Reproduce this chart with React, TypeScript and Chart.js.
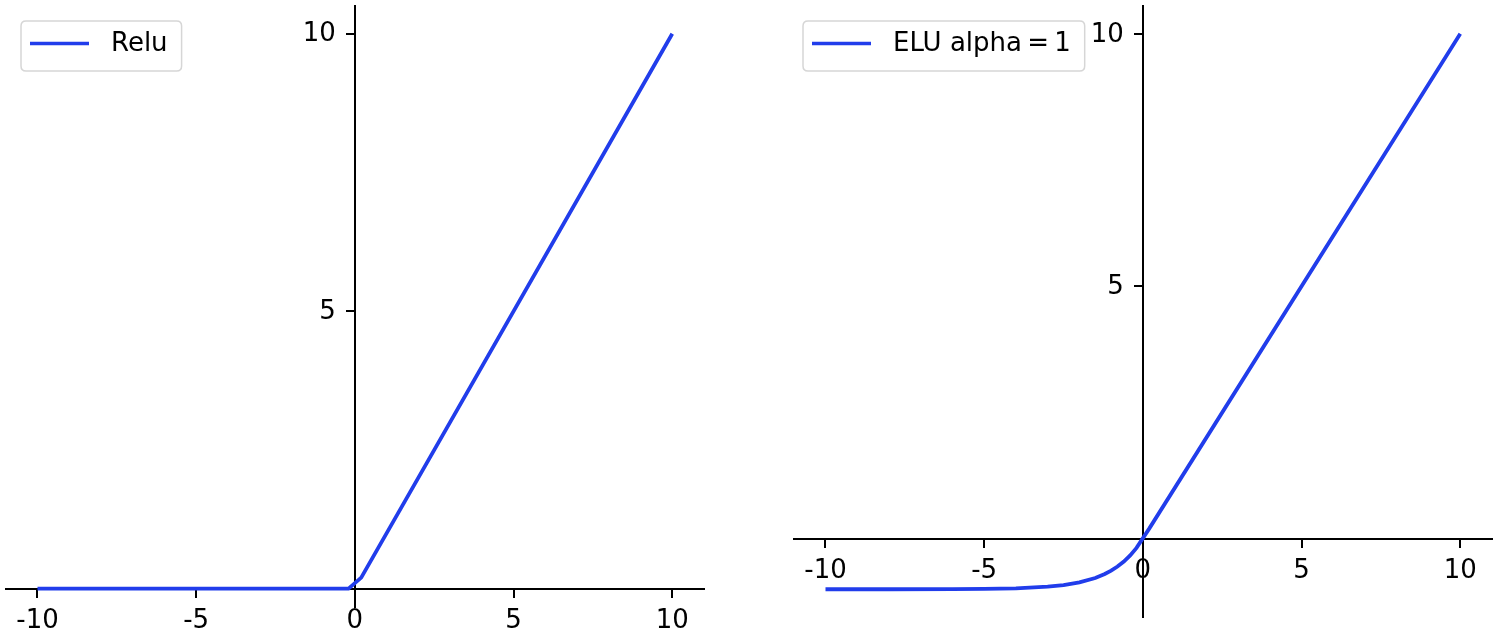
import React, { useEffect, useRef } from "react";
import { Chart, registerables } from "chart.js";

Chart.register(...registerables);

// ---- data ----
const reluX = [-10, -0.2, 0.2, 10];
const reluY = [0, 0, 0.2, 10];

const eluX = [-10, -8, -6, -5, -4, -3, -2.5, -2, -1.5, -1.2, -1, -0.8, -0.6, -0.4, -0.2, 0.2, 10];
const eluY = [-1.0, -1.0, -0.998, -0.993, -0.982, -0.95, -0.918, -0.865, -0.777, -0.699, -0.632, -0.551, -0.451, -0.33, -0.181, 0.2, 10];

const xTicks = [-10, -5, 0, 5, 10];
const yTicks = [5, 10];

const reluLabel = "Relu";
const eluLabel = "ELU alpha\u2009=\u20091";

const LINE = "rgb(33,61,235)";
const FONT = "'DejaVu Sans', sans-serif";
const FONT_SIZE = 26;

const boxLegend = {
  id: "boxLegend",
  afterDraw(chart: any, _args: any, opts: any) {
    const ctx = chart.ctx as CanvasRenderingContext2D;
    const ca = chart.chartArea;
    const ds = chart.data.datasets[0];
    ctx.save();
    ctx.font = `${FONT_SIZE}px ${FONT}`;

    // y tick labels, placed through the chart's own scales
    const xs = chart.scales.x;
    const ys = chart.scales.y;
    const axisX = xs.getPixelForValue(0);
    ctx.fillStyle = "#000";
    ctx.textAlign = "right";
    ctx.textBaseline = "middle";
    for (const v of yTicks) {
      ctx.fillText(String(v), axisX - 19, ys.getPixelForValue(v) + 1);
    }

    // legend box
    const tw = ctx.measureText(ds.label).width;
    const x = ca.left + opts.dx;
    const y = ca.top + opts.dy;
    const w = 9 + 59 + 22 + tw + 14;
    const h = 50;
    const r = 5;
    ctx.beginPath();
    ctx.moveTo(x + r, y);
    ctx.lineTo(x + w - r, y);
    ctx.quadraticCurveTo(x + w, y, x + w, y + r);
    ctx.lineTo(x + w, y + h - r);
    ctx.quadraticCurveTo(x + w, y + h, x + w - r, y + h);
    ctx.lineTo(x + r, y + h);
    ctx.quadraticCurveTo(x, y + h, x, y + h - r);
    ctx.lineTo(x, y + r);
    ctx.quadraticCurveTo(x, y, x + r, y);
    ctx.closePath();
    ctx.fillStyle = "rgba(255,255,255,0.8)";
    ctx.fill();
    ctx.strokeStyle = "#d6d6d6";
    ctx.lineWidth = 1.5;
    ctx.stroke();

    const cy = y + 22.5;
    ctx.beginPath();
    ctx.moveTo(x + 9, cy);
    ctx.lineTo(x + 68, cy);
    ctx.strokeStyle = ds.borderColor;
    ctx.lineWidth = 3.5;
    ctx.stroke();

    ctx.fillStyle = "#000";
    ctx.textAlign = "left";
    ctx.textBaseline = "middle";
    ctx.fillText(ds.label, x + 90, cy + 1);
    ctx.restore();
  },
};

const zeroPadding = (s: any) => {
  s.paddingTop = 0;
  s.paddingBottom = 0;
  s.paddingLeft = 0;
  s.paddingRight = 0;
};

type PanelProps = {
  xs: number[];
  ys: number[];
  label: string;
  yMin: number;
  yMax: number;
  padding: { left: number; right: number; top: number; bottom: number };
  legendDx: number;
  legendDy: number;
  left: number;
};

function Panel(props: PanelProps) {
  const ref = useRef<HTMLCanvasElement>(null);
  useEffect(() => {
    if (!ref.current) return;
    const tickFont = { family: FONT, size: FONT_SIZE };
    const chart = new Chart(ref.current, {
      type: "scatter",
      data: {
        datasets: [
          {
            label: props.label,
            data: props.xs.map((x, i) => ({ x, y: props.ys[i] })),
            showLine: true,
            borderColor: LINE,
            backgroundColor: LINE,
            borderWidth: 3.8,
            pointRadius: 0,
            fill: false,
            tension: 0,
          },
        ],
      },
      options: {
        animation: false,
        responsive: false,
        maintainAspectRatio: false,
        layout: { padding: props.padding },
        plugins: {
          legend: { display: false },
          tooltip: { enabled: false },
          boxLegend: { dx: props.legendDx, dy: props.legendDy },
        } as any,
        scales: {
          x: {
            type: "linear",
            min: -11,
            max: 11,
            position: { y: 0 } as any,
            afterBuildTicks: (s: any) => {
              s.ticks = xTicks.map((v) => ({ value: v }));
            },
            afterFit: zeroPadding,
            grid: { drawOnChartArea: false, drawTicks: true, tickLength: 8, color: "#000", lineWidth: 2 },
            border: { display: true, color: "#000", width: 2 },
            ticks: {
              color: "#000",
              font: tickFont,
              padding: 9,
              maxRotation: 0,
              autoSkip: false,
              callback: (v: any) => String(v),
            },
          },
          y: {
            type: "linear",
            min: props.yMin,
            max: props.yMax,
            position: { x: 0 } as any,
            afterBuildTicks: (s: any) => {
              s.ticks = yTicks.map((v) => ({ value: v }));
            },
            afterFit: zeroPadding,
            grid: { drawOnChartArea: false, drawTicks: true, tickLength: 8, color: "#000", lineWidth: 2 },
            border: { display: true, color: "#000", width: 2 },
            ticks: { display: false },
          },
        },
      },
      plugins: [boxLegend],
    });
    return () => chart.destroy();
  }, []);
  return (
    <canvas
      ref={ref}
      width={750}
      height={635}
      style={{ position: "absolute", left: props.left, top: 0, width: 750, height: 635 }}
    />
  );
}

export default function App() {
  return (
    <div style={{ position: "fixed", left: 0, top: 0, width: 1500, height: 635, background: "#fff", overflow: "hidden" }}>
      <Panel
        xs={reluX}
        ys={reluY}
        label={reluLabel}
        yMin={-0.33}
        yMax={10.5}
        padding={{ left: 5.75, right: 46, top: 6, bottom: 28 }}
        legendDx={15.25}
        legendDy={15}
        left={0}
      />
      <Panel
        xs={eluX}
        ys={eluY}
        label={eluLabel}
        yMin={-1.55}
        yMax={10.55}
        padding={{ left: 43.75, right: 8, top: 6, bottom: 18 }}
        legendDx={9.25}
        legendDy={15}
        left={750}
      />
    </div>
  );
}
